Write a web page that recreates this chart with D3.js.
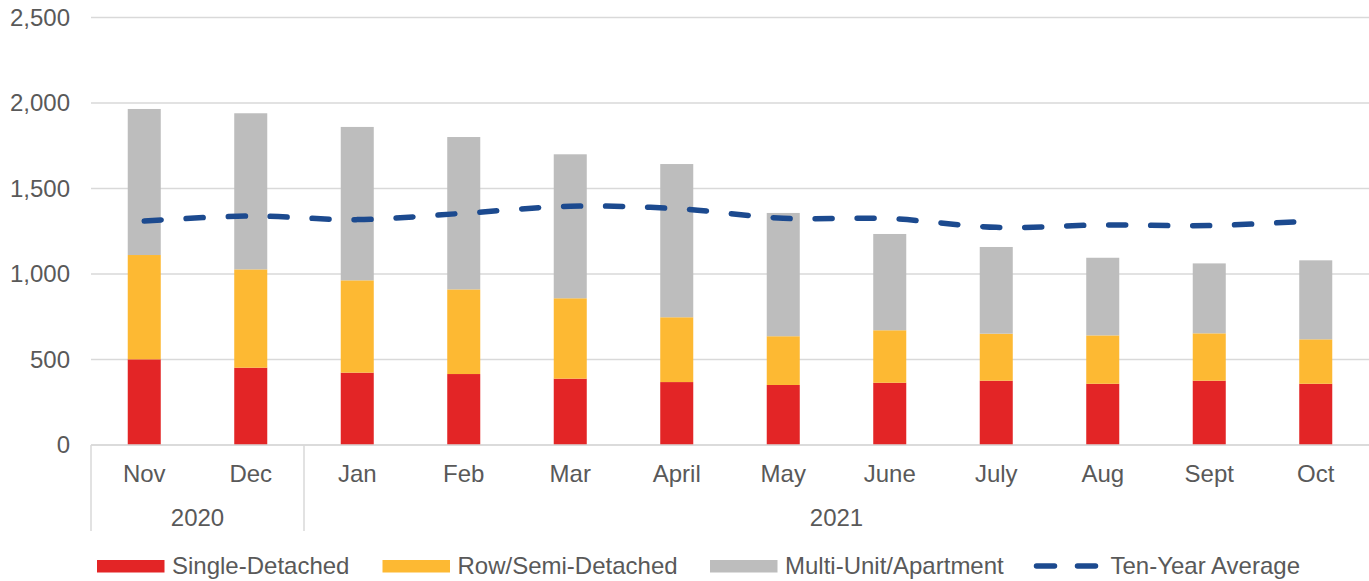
<!DOCTYPE html>
<html>
<head>
<meta charset="utf-8">
<script src="https://cdn.jsdelivr.net/npm/d3@7"></script>
<style>
  body { margin: 0; background: #fff; }
  text { font-family: "Liberation Sans", Arial, sans-serif; fill: #595959; }
</style>
</head>
<body>
<div id="chart"></div>
<script>
// Data
const months = ["Nov", "Dec", "Jan", "Feb", "Mar", "April", "May", "June", "July", "Aug", "Sept", "Oct"];
const years = [{ label: "2020", from: 0, to: 2 }, { label: "2021", from: 2, to: 12 }];
const singleDetached = [501, 452, 423, 415, 388, 368, 351, 364, 376, 358, 376, 358];
const rowSemi        = [610, 575, 540, 495, 470, 379, 285, 307, 275, 283, 277, 260];
const multiUnit      = [854, 913, 897, 891, 842, 896, 721, 563, 507, 454, 409, 462];
const tenYearAvg     = [1310, 1339, 1318, 1355, 1396, 1382, 1326, 1324, 1273, 1287, 1283, 1312];
const yTicks = [0, 500, 1000, 1500, 2000, 2500];

const series = [
  { name: "Single-Detached", values: singleDetached, color: "#E32526" },
  { name: "Row/Semi-Detached", values: rowSemi, color: "#FDB933" },
  { name: "Multi-Unit/Apartment", values: multiUnit, color: "#BDBDBD" }
];

const W = 1369, H = 581;
const margin = { top: 17.5, right: 0, bottom: 136, left: 91 };
const width = W - margin.left - margin.right;
const height = H - margin.top - margin.bottom;
const fontSize = "24px";

const svg = d3.select("#chart").append("svg")
  .attr("width", W).attr("height", H);

const g = svg.append("g")
  .attr("transform", `translate(${margin.left},${margin.top})`);

const x = d3.scaleBand().domain(months).range([0, width]).paddingInner(0).paddingOuter(0);
const y = d3.scaleLinear().domain([0, 2500]).range([height, 0]);
const barW = x.step() * 0.31;

// gridlines
g.selectAll(".grid").data(yTicks).join("line")
  .attr("x1", 0).attr("x2", width)
  .attr("y1", d => y(d)).attr("y2", d => y(d))
  .attr("stroke", "#D9D9D9").attr("stroke-width", 1.5);

// y labels
g.selectAll(".ylab").data(yTicks).join("text")
  .attr("x", -21).attr("y", d => y(d)).attr("dy", "0.35em")
  .attr("text-anchor", "end").style("font-size", fontSize)
  .text(d => d3.format(",")(d));

// stacked bars
const stackData = months.map((m, i) => {
  const o = { month: m };
  series.forEach(s => o[s.name] = s.values[i]);
  return o;
});
const stack = d3.stack().keys(series.map(s => s.name))(stackData);

g.selectAll(".layer").data(stack).join("g")
  .attr("fill", (d, i) => series[i].color)
  .selectAll("rect").data(d => d).join("rect")
  .attr("x", d => x(d.data.month) + x.bandwidth() / 2 - barW / 2)
  .attr("y", d => y(d[1]))
  .attr("width", barW)
  .attr("height", d => y(d[0]) - y(d[1]));

// ten-year average
const line = d3.line()
  .x((d, i) => x(months[i]) + x.bandwidth() / 2)
  .y(d => y(d))
  .curve(d3.curveCatmullRom);

g.append("path")
  .datum(tenYearAvg)
  .attr("fill", "none")
  .attr("stroke", "#1C4A8F")
  .attr("stroke-width", 5.5)
  .attr("stroke-linecap", "round")
  .attr("stroke-dasharray", "17,25")
  .attr("d", line);

// baseline
g.append("line")
  .attr("x1", 0).attr("x2", width)
  .attr("y1", y(0)).attr("y2", y(0))
  .attr("stroke", "#D9D9D9").attr("stroke-width", 1.5);

// month labels
g.selectAll(".mlab").data(months).join("text")
  .attr("x", d => x(d) + x.bandwidth() / 2)
  .attr("y", height + 37)
  .attr("text-anchor", "middle").style("font-size", fontSize)
  .text(d => d);

// year groups and separators
years.forEach(yr => {
  const x0 = yr.from * x.step();
  const x1 = yr.to * x.step();
  g.append("line")
    .attr("x1", x0).attr("x2", x0)
    .attr("y1", height).attr("y2", height + 86)
    .attr("stroke", "#D9D9D9").attr("stroke-width", 1.5);
  g.append("text")
    .attr("x", (x0 + x1) / 2)
    .attr("y", height + 80.5)
    .attr("text-anchor", "middle").style("font-size", fontSize)
    .text(yr.label);
});

// legend
const legendY = 566;
const legendX = [97, 382.5, 710];
series.forEach((s, i) => {
  svg.append("rect")
    .attr("x", legendX[i]).attr("y", legendY - 6)
    .attr("width", 67.5).attr("height", 12.5)
    .attr("fill", s.color);
  svg.append("text")
    .attr("x", legendX[i] + 75).attr("y", legendY).attr("dy", "0.35em")
    .style("font-size", fontSize)
    .text(s.name);
});
svg.append("line")
  .attr("x1", 1036.5).attr("x2", 1096.5)
  .attr("y1", legendY).attr("y2", legendY)
  .attr("stroke", "#1C4A8F").attr("stroke-width", 5.5)
  .attr("stroke-linecap", "round")
  .attr("stroke-dasharray", "18,23");
svg.append("text")
  .attr("x", 1110.5).attr("y", legendY).attr("dy", "0.35em")
  .style("font-size", fontSize)
  .text("Ten-Year Average");
</script>
</body>
</html>
